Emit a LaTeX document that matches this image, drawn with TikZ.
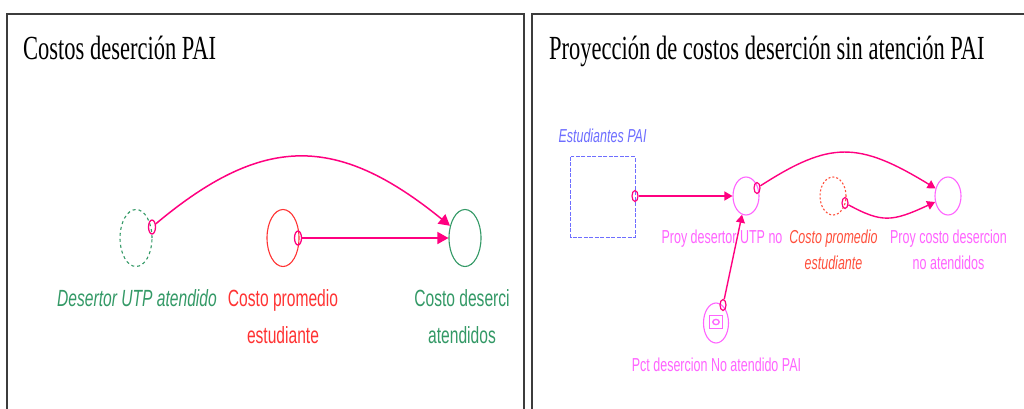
\documentclass[tikz,border=0pt]{standalone}
\usepackage{fontspec}
\usepackage{graphicx}
\setmainfont{Liberation Serif}
\newfontfamily\arialf{Liberation Sans}
\usetikzlibrary{shapes.geometric,arrows.meta}
\definecolor{pinkc}{RGB}{255,0,128}
\definecolor{greenc}{RGB}{51,153,102}
\definecolor{redc}{RGB}{255,51,51}
\definecolor{orangec}{RGB}{255,80,60}
\definecolor{magc}{RGB}{255,100,255}
\definecolor{bluec}{RGB}{110,110,255}
\definecolor{framec}{RGB}{60,60,60}
\newcommand{\vst}[1]{\scalebox{1}[1.5]{\begin{tabular}{@{}c@{}}#1\end{tabular}}}
\begin{document}
\begin{tikzpicture}[x=1pt,y=-1pt,
 panel/.style={line width=2pt, draw=framec},
 ttl/.style={anchor=base west, inner sep=0, font=\fontsize{22.5}{27}\selectfont},
 lblL/.style={inner sep=0, font=\arialf\fontsize{15.6}{24.7}\selectfont},
 lblR/.style={inner sep=0, font=\arialf\fontsize{12.5}{17.3}\selectfont},
 auxL/.style={ellipse, minimum width=32pt, minimum height=57pt, inner sep=0, line width=1.1pt},
 auxR/.style={ellipse, minimum width=26pt, minimum height=38pt, inner sep=0, line width=1.1pt},
 markL/.style={ellipse, draw=pinkc, line width=1.3pt, minimum width=7pt, minimum height=14pt, inner sep=0},
 markR/.style={ellipse, draw=pinkc, line width=1.2pt, minimum width=6pt, minimum height=11pt, inner sep=0},
 connL/.style={draw=pinkc, line width=1.5pt, -{Triangle[length=11pt,width=12pt]}},
 connR/.style={draw=pinkc, line width=1.4pt, -{Triangle[length=8pt,width=9pt]}},
 dashL/.style={dash pattern=on 3pt off 3pt},
 stockbox/.style={rectangle, minimum width=64pt, minimum height=80pt, inner sep=0},
]
\useasboundingbox (0,0) rectangle (1024,408);
\fill[white] (0,0) rectangle (1024,408);
% panels
\draw[panel] (7,412) -- (7,14) -- (524,14) -- (524,412);
\draw[panel] (532,412) -- (532,14) -- (1030,14);
\node[ttl] (t1) at (23,59) {\scalebox{1}[1.5]{Costos deserción PAI}};
\node[ttl] (t2) at (549,59) {\scalebox{1}[1.5]{Proyección de costos deserción sin atención PAI}};

% left panel
\node[auxL, draw=greenc, dashL] (des) at (136,238) {};
\node[auxL, draw=redc] (cpe) at (283,238) {};
\node[auxL, draw=greenc] (cda) at (465,238) {};
\node[markL] (m1) at (152,227) {};
\node[markL] (m2) at (298,238) {};
\draw[connL] (m1) .. controls (263,134) and (337,134) .. (cda);
\draw[connL] (m2) -- (cda);
\node[lblL, text=greenc] (l1) at (137,299) {\vst{\itshape Desertor UTP atendido}};
\node[lblL, text=redc] (l2) at (283,317.5) {\vst{Costo promedio\\estudiante}};
\node[lblL, text=greenc] (l3) at (462,317.5) {\vst{Costo deserci\\atendidos}};

% right panel
\node[stockbox] (stk) at (603,197) {};
\draw[draw=bluec, line width=1.2pt, dash pattern=on 4pt off 1.5pt] (stk.north west) rectangle (stk.south east);
\node[lblR, text=bluec] (l4) at (602.5,137) {\vst{\itshape Estudiantes PAI}};
\node[auxR, draw=magc] (pdu) at (746,196) {};
\node[auxR, draw=orangec, dash pattern=on 2pt off 2pt] (cpe2) at (833,196) {};
\node[auxR, draw=magc] (pcd) at (948,196) {};
\node[auxR, draw=magc, minimum width=25pt, minimum height=40pt] (pct) at (716,323) {};
\node[draw=magc, line width=1.6pt, minimum size=13pt, inner sep=0] (icon) at (716,322) {};
\draw[magc, line width=1.3pt] (icon.center) ellipse (3.2 and 2.6);
\node[markR] (m3) at (635,196) {};
\node[markR] (m4) at (757,188) {};
\node[markR] (m5) at (845,203) {};
\node[markR] (m6) at (723,305) {};
\draw[connR] (m3) -- (pdu);
\draw[connR] (m4) .. controls (830,141) and (858,141) .. (pcd);
\draw[connR] (m5) .. controls (882,223) and (892,222) .. (pcd);
\draw[connR] (m6) -- (pdu);
\node[lblR, text=magc] (l5) at (722,238) {\vst{Proy desertor UTP no}};
\node[lblR, text=orangec] (l6) at (833.5,251) {\vst{\itshape Costo promedio\\\itshape estudiante}};
\node[lblR, text=magc] (l7) at (948.5,251) {\vst{Proy costo desercion\\no atendidos}};
\node[lblR, text=magc] (l8) at (716.5,366) {\vst{Pct desercion No atendido PAI}};
\end{tikzpicture}
\end{document}
